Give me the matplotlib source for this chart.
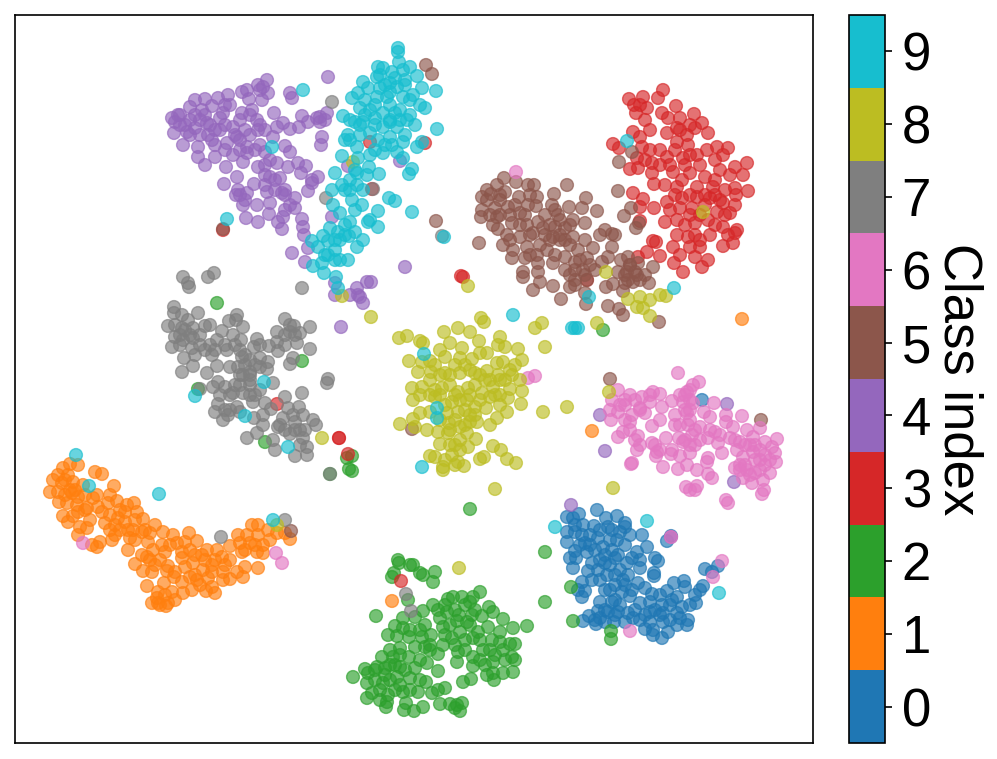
import numpy as np
import matplotlib
matplotlib.use("Agg")
import matplotlib.pyplot as plt
from matplotlib.colors import BoundaryNorm

plt.rcParams["font.family"] = ["Liberation Sans", "DejaVu Sans"]

# embedding coordinates per class
class_0 = [(597,510),(567,517),(573,518),(579,514),(606,518),(617,516),(625,523),(594,526),(608,527),(625,527),
    (567,532),(575,532),(583,525),(582,535),(630,535),(642,535),(567,542),(585,543),(598,538),(617,540),
    (603,547),(647,547),(575,551),(587,552),(612,550),(637,552),(570,558),(576,558),(655,558),(658,561),
    (592,563),(605,563),(627,563),(573,568),(640,568),(588,571),(620,570),(607,575),(654,573),(654,576),
    (705,569),(712,572),(718,566),(582,582),(592,580),(623,580),(638,583),(674,583),(684,581),(685,587),
    (703,586),(700,590),(578,590),(585,591),(610,590),(622,592),(645,588),(667,591),(695,595),(582,597),
    (630,596),(652,594),(677,597),(696,603),(600,602),(612,602),(640,603),(650,602),(662,605),(682,607),
    (598,611),(618,612),(608,612),(628,613),(645,615),(663,613),(677,613),(589,616),(583,621),(595,620),
    (605,622),(596,624),(614,622),(625,622),(633,618),(663,622),(688,620),(687,625),(645,629),(653,630),
    (668,632),(653,635),(662,638),(677,625),(667,541),(671,536),(702,400),(600,530),(612,530),(590,535),
    (605,555),(615,558),(598,570),(615,585),(628,575),(615,600),(655,610),(670,605),(640,620),(650,622),
    (575,525),(590,545),(580,545),(595,550),(600,560),(610,565),(618,555),(625,545),(632,558),(600,580),
    (605,590),(615,575),(625,585),(632,590),(605,610),(620,605),(635,610),(650,612),(660,615),(670,620),
    (680,618),(672,600),(690,605),(660,595),(615,615),(600,618),(640,560),(620,532),(610,540)]
class_1 = [(70,464),(78,465),(63,468),(58,475),(68,475),(53,480),(62,483),(73,482),(83,485),(50,492),
    (58,492),(72,493),(78,497),(59,502),(67,503),(77,505),(87,508),(93,498),(97,495),(98,507),
    (63,516),(73,516),(68,522),(102,512),(110,495),(114,486),(117,501),(108,503),(95,472),(102,474),
    (127,505),(134,503),(137,512),(125,512),(110,515),(118,518),(90,520),(80,527),(87,528),(78,535),
    (105,523),(110,530),(125,522),(143,519),(133,530),(142,532),(97,547),(92,545),(100,542),(112,540),
    (128,550),(130,538),(155,525),(163,532),(150,533),(148,542),(173,535),(162,545),(165,552),(153,550),
    (189,533),(197,541),(185,542),(177,543),(182,552),(182,558),(142,555),(147,557),(135,564),(143,571),
    (155,565),(152,572),(168,566),(167,571),(207,550),(202,555),(217,550),(230,546),(222,557),(230,560),
    (193,563),(185,567),(212,565),(212,572),(203,570),(223,572),(230,579),(223,580),(174,577),(190,577),
    (182,582),(197,580),(208,578),(245,567),(243,577),(258,568),(237,572),(147,586),(164,583),(183,593),
    (192,590),(206,591),(215,593),(212,587),(158,592),(172,592),(152,603),(157,598),(168,603),(166,606),
    (158,603),(238,535),(247,535),(252,525),(258,525),(240,543),(250,543),(263,545),(242,552),(257,552),
    (263,553),(268,530),(277,533),(290,539),(285,533),(742,319),(592,431),(392,601),
    (65,480),(70,490),(65,495),(75,490),(85,495),(85,510),(78,512),(120,510),(115,525),(120,530),
    (128,530),(135,520),(135,540),(145,530),(170,545),(190,550),(195,555),(205,560),(215,560),(225,565),
    (195,575),(200,585),(245,550),(255,545),(165,595),(160,605),(175,600),(270,540),(258,535),(150,560),
    (160,560),(175,572),(115,535)]
class_2 = [(398,560),(399,563),(410,565),(413,565),(394,573),(392,577),(420,573),(423,575),(435,572),(433,582),
    (408,600),(376,616),(480,592),(473,597),(462,597),(453,597),(448,599),(470,602),(433,605),(423,611),
    (438,610),(447,612),(489,607),(493,612),(459,615),(472,615),(482,616),(503,619),(403,618),(415,617),
    (467,622),(457,621),(425,625),(443,627),(395,626),(403,628),(513,628),(527,626),(500,632),(488,627),
    (478,632),(460,632),(388,635),(397,636),(409,637),(422,637),(431,635),(452,638),(473,638),(492,640),
    (515,644),(510,644),(443,645),(415,647),(425,647),(400,648),(390,650),(458,652),(483,650),(503,650),
    (438,654),(382,657),(393,657),(409,657),(473,657),(493,662),(512,657),(515,660),(505,660),(457,662),
    (377,667),(385,668),(400,667),(415,668),(427,663),(438,671),(473,666),(365,669),(368,673),(353,677),
    (397,677),(410,678),(493,673),(487,675),(503,673),(513,672),(494,680),(471,679),(463,682),(367,683),
    (383,683),(400,685),(426,682),(445,688),(438,690),(432,693),(418,692),(403,692),(372,693),(367,698),
    (388,695),(387,702),(406,703),(423,707),(440,704),(450,704),(462,703),(457,705),(386,707),(404,710),
    (414,711),(460,711),(455,708),(545,552),(545,602),(603,330),(470,509),(217,303),(302,361),(198,389),
    (265,442),(347,458),(352,456),(349,469),(352,471),(330,474),(571,587),(573,621),(611,631),(611,639),
    (375,680),(385,675),(395,665),(405,670),(420,680),(410,690),(395,690),(380,690),(375,670),(390,665),
    (420,660),(430,650),(400,655),(420,630),(430,645),(410,630),(445,605),(455,610),(465,605),(470,625),
    (480,640),(490,650),(500,642),(480,660),(465,650),(485,665),(495,655),(450,625),(445,635),(455,645),
    (465,640),(475,610),(440,618),(390,680),(380,700)]
class_3 = [(663,90),(658,98),(643,97),(629,99),(634,105),(647,108),(636,113),(662,113),(676,106),(680,118),
    (694,114),(668,118),(702,123),(695,128),(708,133),(650,130),(633,132),(640,137),(667,133),(677,128),
    (687,135),(613,144),(619,148),(642,147),(660,150),(677,142),(688,145),(707,150),(717,147),(728,148),
    (723,155),(637,158),(652,163),(667,157),(683,158),(697,155),(735,167),(747,163),(743,175),(630,169),
    (638,168),(652,173),(673,172),(690,173),(705,177),(720,170),(654,184),(665,185),(682,180),(677,187),
    (697,187),(713,187),(735,188),(748,191),(633,193),(643,199),(640,207),(654,208),(667,202),(682,198),
    (697,197),(710,198),(723,203),(736,195),(680,208),(692,208),(717,212),(730,213),(665,222),(677,220),
    (695,223),(708,220),(723,227),(640,221),(735,233),(737,230),(677,235),(688,237),(710,235),(653,241),
    (656,242),(673,247),(690,247),(700,247),(723,246),(733,243),(647,252),(660,256),(638,257),(680,255),
    (695,257),(708,260),(674,263),(683,272),(702,267),(461,276),(463,277),(587,280),(425,143),(370,142),
    (372,189),(223,230),(277,404),(339,438),(339,438),(348,454),(401,581),
    (675,150),(690,155),(700,165),(715,180),(725,190),(720,200),(705,205),(700,215),(690,215),(670,210),
    (695,235),(715,225),(700,240),(685,225),(690,195),(675,195),(660,165),(670,165),(685,165),(650,150),
    (645,160),(645,120),(640,105),(715,160),(730,175),(725,215),(680,130),(690,125),(705,195),(715,195),
    (735,205),(728,235)]
class_4 = [(172,118),(178,115),(174,133),(183,145),(190,107),(195,100),(205,99),(212,106),(202,110),(180,125),
    (187,132),(195,128),(207,123),(220,118),(218,98),(228,95),(230,105),(223,113),(233,127),(242,113),
    (252,110),(258,130),(257,120),(247,90),(242,92),(249,99),(258,85),(267,80),(263,87),(268,93),
    (262,100),(274,113),(283,123),(277,127),(290,129),(299,127),(302,116),(292,98),(290,93),(328,77),
    (320,117),(327,113),(317,118),(308,122),(322,137),(321,145),(273,137),(265,152),(247,147),(237,137),
    (227,143),(212,140),(208,135),(198,147),(198,157),(205,165),(215,157),(226,167),(233,155),(243,162),
    (247,153),(258,167),(265,165),(277,163),(290,152),(285,146),(288,167),(298,163),(306,166),(301,173),
    (318,177),(312,183),(308,191),(280,178),(270,177),(267,192),(237,177),(224,184),(238,190),(247,193),
    (236,195),(243,205),(257,205),(254,184),(282,193),(270,203),(295,198),(295,208),(283,217),(269,214),
    (246,218),(258,222),(278,222),(282,229),(302,219),(303,227),(304,235),(308,248),(292,253),(305,262),
    (405,267),(332,217),(348,166),(400,161),(357,288),(367,282),(371,282),(363,303),(335,295),(350,295),
    (358,295),(360,297),(335,283),(341,327),(605,451),(600,415),(727,404),(734,482),(571,505),(671,537),
    (190,120),(200,135),(215,130),(240,140),(225,125),(250,135),(260,145),(275,180),(265,185),(285,190),
    (180,115),(185,125),(195,115),(205,115),(210,125),(220,130),(235,135),(245,130),(200,120),(175,122),
    (190,135),(215,145),(225,150),(240,150),(255,150),(260,125),(250,115),(225,105),(240,120),(265,130),
    (270,160),(265,175),(275,190),(285,195),(240,195),(245,200),(290,205),(285,210),(320,122),(325,120),
    (312,180),(260,90)]
class_5 = [(504,178),(516,182),(497,185),(528,185),(534,185),(487,190),(482,197),(491,194),(505,192),(519,197),
    (530,195),(537,197),(567,185),(554,194),(482,210),(481,217),(495,208),(508,207),(497,217),(520,213),
    (528,205),(536,206),(552,205),(569,207),(582,208),(586,198),(597,211),(558,215),(493,225),(512,223),
    (527,225),(538,222),(573,220),(585,223),(498,229),(507,235),(520,237),(533,233),(543,228),(555,227),
    (565,228),(479,243),(503,245),(513,250),(527,247),(553,237),(573,237),(585,240),(605,230),(612,234),
    (612,247),(593,248),(512,258),(525,258),(537,255),(547,250),(565,257),(578,250),(538,263),(553,263),
    (587,258),(602,262),(608,257),(621,260),(628,257),(638,263),(653,267),(523,272),(523,277),(538,272),
    (565,270),(583,270),(627,272),(618,272),(637,275),(540,282),(533,290),(553,286),(570,287),(575,280),
    (587,280),(606,287),(613,284),(625,283),(633,282),(649,283),(623,291),(561,299),(585,293),(586,304),
    (608,306),(619,309),(623,315),(659,322),(618,191),(619,162),(632,152),(631,208),(624,216),(639,223),
    (636,228),(426,65),(432,74),(436,221),(223,229),(610,379),(761,420),(412,429),(291,531),(560,240),
    (575,262),(570,245),(595,270),(630,265),(645,275),
    (500,195),(500,215),(510,215),(515,205),(525,215),(530,235),(520,225),(510,240),(530,255),(540,245),
    (550,240),(560,235),(565,240),(570,225),(560,220),(545,235),(555,255),(575,270),(580,260),(590,265),
    (585,275),(575,285),(570,275),(630,265),(635,272),(628,280),(640,280),(625,275),(615,235),(600,235),
    (550,225),(545,215),(555,210),(490,215),(487,200),(500,200)]
class_6 = [(678,373),(699,382),(693,385),(687,392),(618,390),(612,400),(630,395),(642,397),(653,392),(660,394),
    (635,400),(650,402),(672,401),(683,402),(693,403),(714,403),(610,410),(618,412),(632,415),(645,413),
    (662,407),(675,415),(687,413),(704,412),(710,417),(726,415),(742,416),(611,420),(630,422),(660,420),
    (652,426),(675,425),(688,425),(700,427),(726,422),(623,432),(618,437),(638,436),(666,438),(692,435),
    (715,432),(733,427),(747,430),(760,428),(679,438),(708,438),(730,438),(740,442),(753,437),(777,439),
    (640,445),(652,443),(683,442),(695,445),(718,443),(765,442),(772,447),(637,450),(657,452),(672,450),
    (690,453),(722,453),(737,450),(753,452),(775,453),(671,454),(656,456),(680,456),(708,458),(743,457),
    (760,460),(776,462),(632,463),(631,464),(707,462),(687,465),(663,467),(678,469),(735,468),(747,470),
    (770,473),(697,470),(755,473),(708,474),(712,478),(743,478),(752,483),(763,480),(686,487),(690,490),
    (697,486),(695,490),(764,490),(762,494),(726,500),(728,503),(516,172),(528,378),(535,376),(83,543),
    (276,553),(282,563),(630,631),(671,537),(722,561),(713,577),(750,445),(760,450),(765,465),(740,465),
    (685,410),(680,395),(690,420),(625,405),(640,408),
    (625,400),(640,410),(650,395),(620,405),(630,430),(635,440),(655,445),(660,450),(690,400),(685,395),
    (690,410),(695,430),(685,440),(700,440),(710,430),(720,435),(735,440),(745,445),(755,445),(765,455),
    (755,460),(770,460),(745,465),(750,475),(760,470),(740,470),(680,425),(690,445),(625,420),(690,390)]
class_7 = [(183,277),(188,283),(189,287),(208,277),(214,273),(302,288),(174,307),(174,313),(168,326),(182,315),
    (198,313),(188,320),(182,328),(193,328),(205,326),(175,337),(172,347),(183,340),(193,338),(184,358),
    (192,348),(205,350),(217,340),(222,331),(229,321),(237,315),(236,320),(243,327),(233,335),(257,339),
    (241,340),(254,347),(227,350),(242,357),(260,358),(250,360),(268,362),(260,367),(267,369),(230,367),
    (217,366),(193,366),(182,372),(207,373),(238,367),(243,375),(218,382),(213,387),(225,387),(250,385),
    (273,383),(233,393),(243,393),(260,390),(200,389),(218,404),(215,412),(228,415),(223,420),(237,407),
    (253,402),(265,403),(254,418),(271,409),(263,415),(285,397),(302,393),(299,407),(288,408),(283,418),
    (295,422),(303,415),(313,420),(316,425),(278,427),(290,434),(263,425),(257,433),(247,438),(273,440),
    (275,450),(303,438),(307,447),(295,456),(307,455),(285,319),(294,326),(310,327),(277,332),(290,332),
    (300,333),(277,342),(269,346),(278,351),(297,343),(310,349),(293,358),(290,364),(328,379),(327,383),
    (330,474),(221,537),(285,520),(406,594),(411,611),(332,102),(326,198),(442,236),(373,189),(200,345),
    (212,355),(240,375),(235,385),(250,372),(255,395),(293,415),(300,430),
    (185,330),(190,335),(200,335),(180,345),(195,355),(210,345),(215,350),(225,345),(235,345),(240,350),
    (245,365),(250,375),(255,365),(240,385),(250,395),(230,395),(220,395),(245,355),(260,345),(250,380),
    (225,410),(230,410),(240,412),(285,430),(295,430),(280,425),(305,430),(300,445),(290,325),(295,335),
    (285,335),(285,345),(180,335),(175,325),(210,325)]
class_8 = [(399,338),(407,336),(420,341),(423,343),(444,332),(458,328),(481,318),(484,322),(470,332),(479,341),
    (500,337),(535,328),(542,323),(545,347),(518,349),(522,360),(505,347),(498,345),(487,353),(480,353),
    (462,348),(450,343),(440,350),(445,357),(460,358),(472,359),(409,361),(422,362),(418,372),(430,361),
    (431,372),(445,373),(460,373),(475,373),(487,371),(503,362),(497,363),(498,375),(512,375),(520,380),
    (522,391),(510,389),(493,387),(482,393),(468,388),(458,392),(442,388),(430,380),(422,387),(412,388),
    (413,400),(420,395),(435,397),(452,402),(467,400),(490,397),(508,398),(500,405),(521,404),(543,412),
    (567,407),(486,408),(475,407),(458,412),(447,413),(430,412),(420,413),(507,412),(497,418),(490,425),
    (477,422),(470,422),(460,427),(449,423),(413,419),(400,424),(415,427),(427,430),(438,432),(448,433),
    (467,433),(476,439),(440,444),(455,445),(468,447),(452,455),(430,456),(435,457),(458,462),(464,466),
    (443,467),(443,470),(480,459),(484,457),(493,446),(501,450),(507,459),(516,463),(495,489),(606,272),
    (468,286),(597,323),(703,212),(628,299),(640,297),(637,307),(650,300),(666,296),(660,295),(643,308),
    (650,316),(371,317),(322,438),(342,296),(353,162),(459,568),(613,488),(609,392),(277,525),
    (435,365),(440,375),(450,375),(455,365),(465,365),(470,370),(480,375),(490,380),(500,380),(505,380),
    (510,370),(515,365),(440,395),(445,405),(460,400),(470,395),(475,385),(480,400),(455,395),(465,410),
    (470,415),(440,420),(450,430),(460,440),(465,425),(475,415),(485,380),(495,395),(500,395),(450,385),
    (435,390),(430,395),(455,420),(460,450),(445,460),(455,465),(450,445)]
class_9 = [(398,48),(398,52),(399,62),(410,67),(378,67),(383,68),(392,72),(403,70),(417,76),(436,91),
    (437,129),(422,88),(425,108),(420,105),(415,125),(407,120),(400,110),(390,83),(397,87),(403,97),
    (413,95),(377,77),(363,82),(368,88),(358,93),(352,98),(377,97),(387,97),(360,108),(370,110),
    (383,113),(395,113),(343,116),(350,120),(363,122),(383,127),(397,127),(348,135),(345,140),(360,135),
    (370,133),(390,137),(403,142),(417,147),(422,142),(357,147),(370,155),(383,153),(397,152),(403,158),
    (412,169),(409,174),(342,156),(358,158),(369,167),(335,173),(357,173),(367,175),(379,174),(332,190),
    (342,185),(357,185),(363,190),(352,200),(333,205),(389,198),(395,201),(412,212),(444,237),(378,211),
    (370,220),(378,227),(350,222),(340,213),(330,228),(338,232),(349,236),(363,240),(357,247),(323,236),
    (312,241),(328,241),(318,247),(335,250),(335,260),(348,260),(322,263),(313,266),(324,273),(336,277),
    (338,288),(272,147),(227,219),(303,90),(76,455),(89,486),(159,494),(273,520),(195,396),(264,382),
    (245,416),(288,447),(513,315),(424,354),(437,408),(437,418),(422,467),(572,328),(575,328),(578,328),
    (589,297),(674,288),(627,141),(555,527),(647,521),(719,593),(385,85),(405,85),(375,105),(390,105),
    (410,115),(375,125),(390,122),(405,135),
    (380,75),(395,78),(405,80),(380,88),(390,92),(410,100),(365,100),(365,115),(375,118),(390,120),
    (400,120),(355,122),(360,125),(378,140),(392,145),(375,150),(385,145),(350,140),(355,170),(350,180),
    (345,190),(350,190),(355,210),(362,205),(345,235),(340,240),(335,240),(328,255),(340,260),(325,255),
    (345,225),(355,232),(368,222)]

classes = [class_0, class_1, class_2, class_3, class_4, class_5, class_6, class_7, class_8, class_9]
tick_labels = ["0", "1", "2", "3", "4", "5", "6", "7", "8", "9"]

xs = np.concatenate([np.array(c)[:, 0] for c in classes])
ys = np.concatenate([np.array(c)[:, 1] for c in classes])
labels = np.concatenate([np.full(len(c), i) for i, c in enumerate(classes)])

W, H = 997, 759
fig = plt.figure(figsize=(W / 100, H / 100), dpi=100)
ax = fig.add_axes([15 / W, 1 - 743 / H, 798 / W, 728 / H])
cax = fig.add_axes([849 / W, 1 - 743 / H, 36 / W, 728 / H])

cmap = plt.get_cmap("tab10", 10)
norm = BoundaryNorm(np.arange(-0.5, 10.5), 10)
ax.scatter(xs, ys, c=labels, cmap=cmap, norm=norm, s=85, alpha=0.65)
ax.set_xlim(15, 813)
ax.set_ylim(743, 15)
ax.set_xticks([])
ax.set_yticks([])
for s in ax.spines.values():
    s.set_linewidth(1.2)

sm = plt.cm.ScalarMappable(norm=norm, cmap=cmap)
cbar = fig.colorbar(sm, cax=cax, ticks=np.arange(10))
cbar.minorticks_off()
cbar.ax.set_yticklabels(tick_labels)
cbar.ax.tick_params(labelsize=38, length=5, width=1.2, pad=7)
cbar.outline.set_linewidth(1.2)
cbar.set_label("Class index", fontsize=38, rotation=270, labelpad=38)

fig.savefig("out.png", dpi=100)
